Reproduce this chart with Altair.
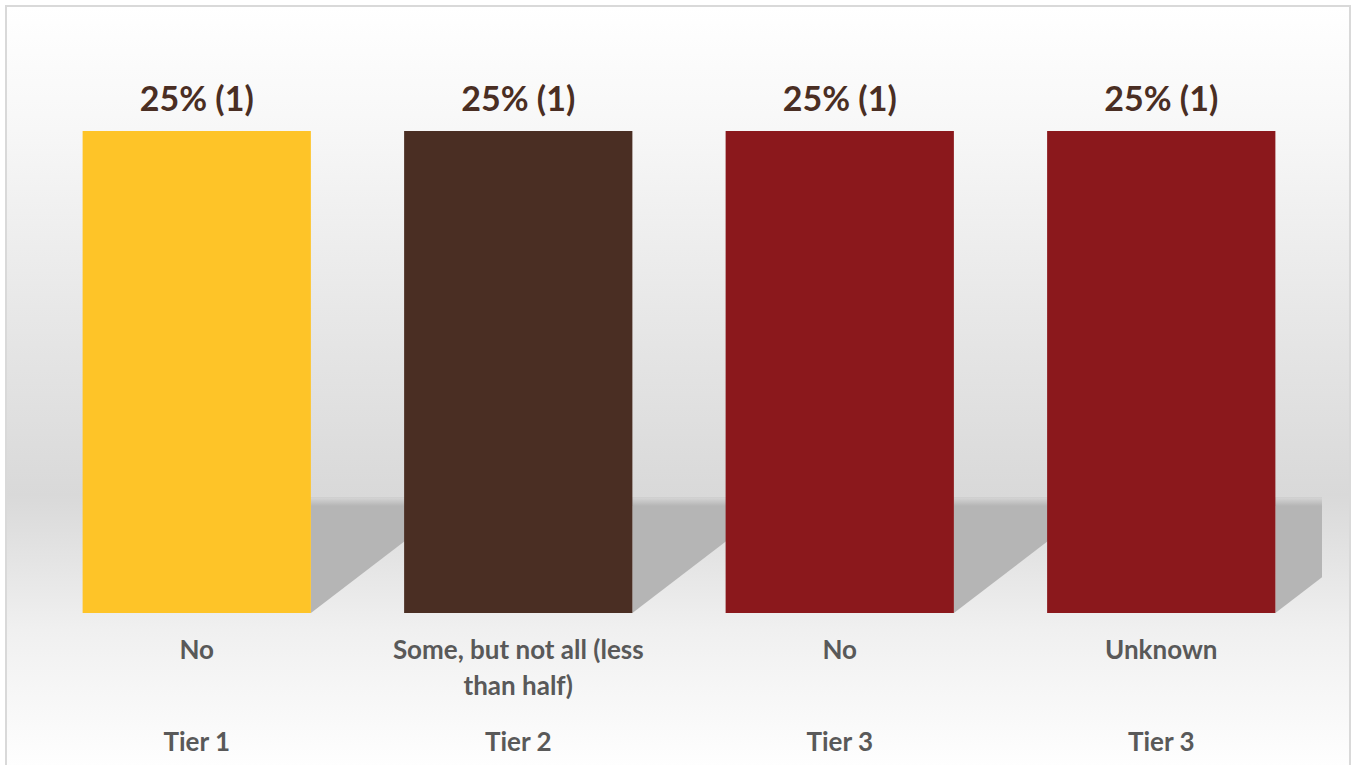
import textwrap
import altair as alt
import pandas as pd

# ---- data ----
tiers = ["Tier 1", "Tier 2", "Tier 3", "Tier 3"]
responses = ["No", "Some, but not all (less than half)", "No", "Unknown"]
percents = [25, 25, 25, 25]
counts = [1, 1, 1, 1]
bar_colors = ["#FEC428", "#4A2E23", "#8B181C", "#8B181C"]

df = pd.DataFrame({
    "tier": tiers,
    "response": responses,
    "pct": percents,
    "count": counts,
    "color": bar_colors,
})
df["resp_lines"] = [textwrap.wrap(r, 23) for r in df["response"]]

W, H = 1286, 482
HW = 0.355   # half bar width in band units
SD = 0.47    # shadow horizontal reach in band units
SH = 6.0     # shadow height in percent units
FONT = "Lato"

xs = alt.Scale(domain=[0, len(responses)], nice=False, zero=False)
ys = alt.Scale(domain=[0, 25], nice=False)

base = alt.Chart(df).transform_window(idx="row_number()")

# background panel with gradient and border
bg = alt.Chart(alt.Data(values=[{}])).mark_rect(
    color=alt.LinearGradient(
        gradient="linear",
        stops=[
            alt.GradientStop(color="#ffffff", offset=0),
            alt.GradientStop(color="#f7f7f7", offset=0.16),
            alt.GradientStop(color="#e8e8e8", offset=0.39),
            alt.GradientStop(color="#d9d9d9", offset=0.635),
            alt.GradientStop(color="#f0f0f0", offset=0.81),
            alt.GradientStop(color="#ffffff", offset=1),
        ],
        x1=0, x2=0, y1=0, y2=1,
    ),
    stroke="#d9d9d9",
    strokeWidth=2,
).encode(
    x=alt.value(-30), x2=alt.value(1314), y=alt.value(-125), y2=alt.value(645)
)

# floor shadows cast by bars (triangle behind each bar's right side)
shadow = base.transform_calculate(
    a0="0", a1="1"
).transform_fold(["a0", "a1"], as_=["k", "pts"]).transform_calculate(
    sx=f"datum.idx - 0.5 + {HW} + datum.pts * {SD}",
    sy=f"{SH}",
    sy2=f"datum.pts * {SH}",
).mark_area(
    clip=True,
    color="#b5b5b5",
    interpolate="linear",
    orient="vertical",
).encode(
    x=alt.X("sx:Q", scale=xs, axis=None),
    y=alt.Y("sy:Q", scale=ys, axis=None, stack=None),
    y2="sy2:Q",
    detail="idx:N",
)

# soft top edge of the floor shadow
shadow_edge = base.transform_calculate(
    ex0=f"datum.idx - 0.5 + {HW}",
    ex1=f"datum.idx - 0.5 + {HW} + {SD} * 0.93",
    ey=f"{SH}",
    ey2=f"{SH} - 0.45",
).mark_rect(
    clip=True,
    color=alt.LinearGradient(
        gradient="linear",
        stops=[
            alt.GradientStop(color="#d6d6d6", offset=0),
            alt.GradientStop(color="#b5b5b5", offset=1),
        ],
        x1=0, x2=0, y1=0, y2=1,
    ),
).encode(
    x=alt.X("ex0:Q", scale=xs, axis=None),
    x2="ex1:Q",
    y=alt.Y("ey:Q", scale=ys, axis=None),
    y2="ey2:Q",
)

bars = base.transform_calculate(
    x0=f"datum.idx - 0.5 - {HW}",
    x1=f"datum.idx - 0.5 + {HW}",
).mark_rect().encode(
    x=alt.X("x0:Q", scale=xs, axis=None),
    x2="x1:Q",
    y=alt.Y("pct:Q", scale=ys, axis=None),
    y2=alt.datum(0),
    color=alt.Color("color:N", scale=None),
)

labels = base.transform_calculate(
    cx="datum.idx - 0.5",
    lab="datum.pct + '% (' + datum.count + ')'",
).mark_text(
    font=FONT, fontSize=34, fontWeight="bold", color="#4A2E23",
    baseline="alphabetic", dy=-20,
).encode(
    x=alt.X("cx:Q", scale=xs, axis=None),
    y=alt.Y("pct:Q", scale=ys, axis=None),
    text="lab:N",
)

resp = base.transform_calculate(cx="datum.idx - 0.5").mark_text(
    font=FONT, fontSize=26, fontWeight="bold", color="#595959",
    baseline="alphabetic", lineHeight=36,
).encode(
    x=alt.X("cx:Q", scale=xs, axis=None),
    y=alt.value(528),
    text="resp_lines",
)

tier_lab = base.transform_calculate(cx="datum.idx - 0.5").mark_text(
    font=FONT, fontSize=26, fontWeight="bold", color="#595959",
    baseline="alphabetic",
).encode(
    x=alt.X("cx:Q", scale=xs, axis=None),
    y=alt.value(620),
    text="tier:N",
)

chart = alt.layer(bg, shadow, shadow_edge, bars, labels, resp, tier_lab).properties(
    width=W,
    height=H,
    autosize=alt.AutoSizeParams(type="none"),
    padding={"left": 36, "top": 131, "right": 32, "bottom": 152},
).configure_view(strokeWidth=0)

chart.save("out.html", embed_options={"renderer": "svg", "actions": False})
